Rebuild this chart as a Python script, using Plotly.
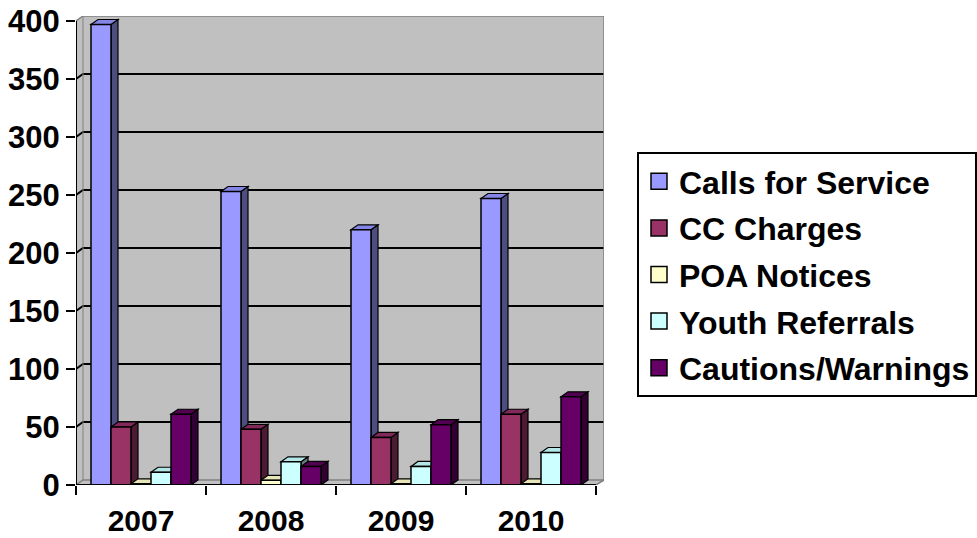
import plotly.graph_objects as go

# ---------------- data ----------------
years = ["2007", "2008", "2009", "2010"]
series_names = ["Calls for Service", "CC Charges", "POA Notices",
                "Youth Referrals", "Cautions/Warnings"]
calls_for_service = [397, 253, 220, 247]
cc_charges = [50, 48, 41, 61]
poa_notices = [1, 4, 1, 1]
youth_referrals = [11, 20, 16, 28]
cautions_warnings = [61, 16, 52, 76]
y_tick_values = [0, 50, 100, 150, 200, 250, 300, 350, 400]

series_values = [calls_for_service, cc_charges, poa_notices,
                 youth_referrals, cautions_warnings]

# ---------------- style ----------------
front_colors = ["#9999FF", "#993366", "#FFFFCC", "#CCFFFF", "#660066"]
top_colors = ["#8585E6", "#80295A", "#E6E6B8", "#B3E6E6", "#520052"]
side_colors = ["#4D4D80", "#4D1A33", "#80806A", "#668080", "#330033"]
FONT = "Liberation Sans, Arial, sans-serif"

W, H = 977, 538
ML, MR, MT, MB = 76, 373, 16, 53
PX_PER_CAT = 130.0
PX_PER_UNIT = 1.16
x_lo = -0.5
x_hi = x_lo + (W - ML - MR) / PX_PER_CAT
y_hi = (H - MT - MB) / PX_PER_UNIT
DX = 7 / PX_PER_CAT      # 3D depth, horizontal (x units)
DY = 5 / PX_PER_UNIT     # 3D depth, vertical (y units)
STEP = 20 / PX_PER_CAT   # bar width in category units
n_cat = len(years)
n_ser = len(series_names)

fig = go.Figure()
shapes = []

# white corners outside the 3D walls
shapes.append(dict(type="path", xref="x", yref="y", layer="below",
                   path=f"M {x_lo},{y_tick_values[-1]} L {x_lo},{y_hi} L {x_lo+DX},{y_hi} Z",
                   fillcolor="white", line=dict(width=0)))
shapes.append(dict(type="path", xref="x", yref="y", layer="below",
                   path=f"M {n_cat-0.5},0 L {x_hi},0 L {x_hi},{DY} Z",
                   fillcolor="white", line=dict(width=0)))

# gridlines on the back wall
for v in y_tick_values[1:-1]:
    shapes.append(dict(type="path", xref="x", yref="y", layer="below",
                       path=f"M {x_lo},{v} L {x_lo+DX},{v+DY} L {x_hi},{v+DY}",
                       line=dict(color="black", width=2)))

# wall frame (grey)
frame = "#808080"
shapes.append(dict(type="path", xref="x", yref="y", layer="below",
                   path=(f"M {x_lo},{y_tick_values[-1]} L {x_lo+DX},{y_hi} L {x_hi},{y_hi} "
                         f"L {x_hi},{DY} L {x_lo+DX},{DY} L {x_lo},0"),
                   line=dict(color=frame, width=1.5)))
shapes.append(dict(type="line", xref="x", yref="y", layer="below",
                   x0=x_lo+DX, x1=x_lo+DX, y0=DY, y1=y_hi,
                   line=dict(color=frame, width=1)))
shapes.append(dict(type="line", xref="x", yref="y", layer="below",
                   x0=n_cat-0.5, x1=x_hi, y0=0, y1=DY,
                   line=dict(color=frame, width=1.5)))

# bars (front faces) + 3D side/top faces derived from the same data
for j in range(n_ser):
    xs = [i + (j - (n_ser - 1) / 2) * STEP for i in range(n_cat)]
    vals = series_values[j]
    fig.add_trace(go.Bar(
        x=xs, y=vals, width=STEP, name=series_names[j], showlegend=False,
        marker=dict(color=front_colors[j], line=dict(color="black", width=1.5)),
        hovertext=years, hovertemplate="%{hovertext}: %{y}<extra>" + series_names[j] + "</extra>",
    ))
    for xc, v in zip(xs, vals):
        xl, xr = xc - STEP / 2, xc + STEP / 2
        shapes.append(dict(type="path", xref="x", yref="y", layer="below",
                           path=f"M {xr},0 L {xr+DX},{DY} L {xr+DX},{v+DY} L {xr},{v} Z",
                           fillcolor=side_colors[j], line=dict(color="black", width=1.2)))
        shapes.append(dict(type="path", xref="x", yref="y", layer="below",
                           path=f"M {xl},{v} L {xl+DX},{v+DY} L {xr+DX},{v+DY} L {xr},{v} Z",
                           fillcolor=top_colors[j], line=dict(color="black", width=1.2)))

# legend proxies
for j in range(n_ser):
    fig.add_trace(go.Scatter(
        x=[None], y=[None], mode="markers", name=series_names[j],
        legendgroup=f"g{j}",
        marker=dict(symbol="square", size=16, color=front_colors[j],
                    line=dict(color="black", width=1.5)),
    ))

# axis lines
shapes.append(dict(type="line", xref="x", yref="y", layer="above",
                   x0=x_lo, x1=x_lo, y0=0, y1=y_tick_values[-1],
                   line=dict(color="black", width=2)))
shapes.append(dict(type="line", xref="x", yref="y", layer="above",
                   x0=x_lo, x1=n_cat - 0.5, y0=0, y1=0,
                   line=dict(color="black", width=2)))

fig.update_layout(
    width=W, height=H,
    margin=dict(l=ML, r=MR, t=MT, b=MB, pad=0, autoexpand=False),
    paper_bgcolor="white", plot_bgcolor="#C0C0C0",
    barmode="overlay",
    shapes=shapes,
    font=dict(family=FONT, color="black"),
    xaxis=dict(
        range=[x_lo, x_hi], showgrid=False, zeroline=False, showline=False,
        automargin=False,
        tickvals=list(range(n_cat)), ticktext=years, ticks="",
        tickfont=dict(family=FONT, size=30, color="black", weight="bold"),
        ticklabelstandoff=15,
        minor=dict(tickvals=[i - 0.5 for i in range(n_cat + 1)], ticks="outside",
                   ticklen=9, tickwidth=2, tickcolor="black", showgrid=False),
        fixedrange=True,
    ),
    yaxis=dict(
        range=[0, y_hi], showgrid=False, zeroline=False, showline=False,
        automargin=False,
        tickvals=y_tick_values, ticks="outside", ticklen=9, tickwidth=2,
        tickcolor="black",
        tickfont=dict(family=FONT, size=31, color="black", weight="bold"),
        fixedrange=True,
    ),
    legend=dict(
        xref="container", yref="container",
        x=637 / W, y=1 - 152 / H, xanchor="left", yanchor="top",
        bgcolor="white", bordercolor="black", borderwidth=2,
        font=dict(family=FONT, size=32, color="black", weight="bold"),
        tracegroupgap=2, itemwidth=30,
    ),
)

fig.write_html(
    "out.html",
    config={"displayModeBar": False},
    post_script="document.body.style.margin='0';document.body.style.overflow='hidden';",
)
